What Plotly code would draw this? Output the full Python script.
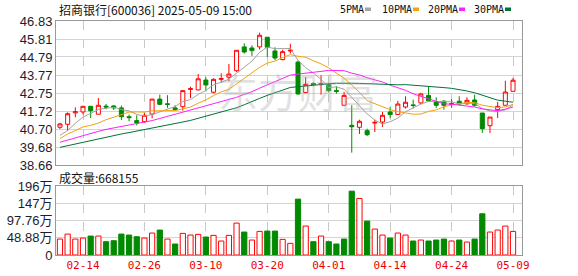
import plotly.graph_objects as go

# ---------------- data ----------------
dates = ["02-11","02-12","02-13","02-14","02-17","02-18","02-19","02-20","02-21","02-24",
         "02-25","02-26","02-27","02-28","03-03","03-04","03-05","03-06","03-07","03-10",
         "03-11","03-12","03-13","03-14","03-17","03-18","03-19","03-20","03-21","03-24",
         "03-25","03-26","03-27","03-28","03-31","04-01","04-02","04-03","04-07","04-08",
         "04-09","04-10","04-11","04-14","04-15","04-16","04-17","04-18","04-21","04-22",
         "04-23","04-24","04-25","04-28","04-29","04-30","05-06","05-07","05-08","05-09"]

open_ = [40.80,40.97,41.62,41.67,41.99,41.54,42.00,42.01,41.90,41.40,
         41.18,41.12,41.55,42.40,42.13,41.90,41.97,42.95,42.92,43.48,
         42.79,43.52,43.64,44.01,45.36,45.30,45.36,45.91,45.13,44.64,
         45.13,44.50,42.77,43.28,43.22,43.22,42.88,42.05,40.91,40.80,
         40.61,41.04,41.10,41.67,41.52,41.95,42.07,42.18,42.61,42.24,
         42.28,42.10,42.28,42.14,42.35,41.61,40.89,41.80,42.05,42.84]
high = [41.05,41.65,41.93,42.00,42.00,42.46,42.12,42.05,42.03,41.52,
        41.48,41.61,42.40,42.65,42.62,42.05,42.90,43.10,43.82,43.64,
        43.58,43.86,44.39,45.17,45.56,45.45,46.17,45.91,45.34,45.20,
        45.54,44.58,43.64,43.35,43.75,43.30,43.13,42.80,42.05,41.23,
        40.72,41.23,41.67,41.97,42.30,42.56,42.37,42.75,43.13,42.50,
        42.35,42.40,42.56,42.50,42.65,41.61,41.38,42.24,43.44,43.60]
low = [40.70,40.60,41.37,41.52,41.33,41.54,41.82,41.78,41.21,41.14,
       40.91,41.05,41.30,42.07,41.90,41.75,41.75,42.45,42.90,42.84,
       42.72,43.31,43.41,43.94,44.98,44.85,45.21,44.79,44.62,44.60,
       44.98,42.65,42.77,43.13,42.65,42.78,42.71,42.05,39.36,40.42,
       40.30,40.53,40.82,41.33,41.52,41.86,41.86,42.10,42.28,41.90,
       41.80,41.90,42.05,42.05,41.98,40.48,40.48,41.33,42.05,42.84]
close = [40.99,41.57,41.68,41.99,41.74,42.05,41.95,41.90,41.40,41.35,
         41.05,41.48,42.40,42.10,42.10,41.80,42.88,42.99,43.55,43.20,
         43.52,43.56,43.82,45.17,45.07,45.15,46.02,45.34,44.73,45.09,
         45.17,42.69,43.24,43.22,43.27,42.88,42.84,42.61,40.83,41.14,
         40.38,41.08,41.48,41.52,42.12,42.22,42.04,42.69,42.30,42.05,
         42.05,42.14,42.12,42.33,42.05,40.72,41.38,41.99,42.80,43.47]

ma5 = [40.34,40.62,41.02,41.38,41.59,41.81,41.88,41.93,41.81,41.73,
       41.53,41.44,41.52,41.66,41.80,41.98,42.26,42.37,42.66,42.89,
       43.22,43.35,43.53,43.86,44.23,44.55,45.05,45.35,45.26,45.27,
       45.27,44.60,44.18,43.88,43.52,43.06,43.09,42.96,42.49,42.06,
       41.56,41.21,40.98,41.12,41.32,41.68,41.88,42.12,42.27,42.26,
       42.23,42.25,42.13,42.14,42.14,41.87,41.72,41.69,41.79,42.07]
ma10 = [40.16,40.42,40.61,40.82,40.91,41.04,41.23,41.37,41.52,41.66,
        41.67,41.66,41.73,41.74,41.77,41.75,41.84,41.95,42.17,42.35,
        42.60,42.81,42.95,43.26,43.56,43.89,44.20,44.44,44.56,44.76,
        44.92,44.83,44.77,44.58,44.40,44.17,43.85,43.58,43.19,42.79,
        42.31,42.15,41.97,41.80,41.69,41.62,41.54,41.55,41.70,41.79,
        41.96,42.07,42.13,42.21,42.20,42.05,41.98,41.91,41.96,42.10]
ma20 = [39.95,40.08,40.20,40.33,40.45,40.57,40.68,40.76,40.83,40.90,
        40.98,41.06,41.18,41.30,41.42,41.52,41.64,41.77,41.90,42.01,
        42.13,42.23,42.34,42.50,42.67,42.82,43.02,43.20,43.36,43.55,
        43.76,43.82,43.86,43.91,43.97,44.03,44.02,44.01,43.87,43.77,
        43.61,43.49,43.37,43.19,43.04,42.90,42.70,42.56,42.44,42.29,
        42.13,42.11,42.05,42.01,41.95,41.84,41.77,41.74,41.83,41.95]
ma30 = [39.66,39.76,39.86,39.96,40.06,40.16,40.25,40.33,40.42,40.50,
        40.58,40.66,40.75,40.85,40.94,41.02,41.10,41.19,41.31,41.40,
        41.51,41.63,41.75,41.91,42.08,42.24,42.44,42.61,42.76,42.92,
        43.06,43.10,43.15,43.19,43.24,43.27,43.30,43.32,43.30,43.29,
        43.27,43.26,43.23,43.21,43.21,43.22,43.19,43.18,43.14,43.10,
        43.05,43.01,42.95,42.86,42.76,42.61,42.45,42.34,42.28,42.22]

# volume in 万 (10k lots)
volume = [45.2,59.3,45.2,48.0,53.7,53.7,37.7,40.5,59.3,56.5,
          51.8,48.0,62.2,70.7,45.2,31.1,61.2,56.5,58.4,50.9,
          55.6,39.6,55.6,90.4,65.0,42.4,66.9,67.8,67.8,44.3,
          33.0,158.3,82.0,37.7,53.7,37.7,31.1,45.2,180.9,160.2,
          96.1,73.5,56.5,48.0,62.2,56.5,39.6,42.4,39.6,42.4,
          45.2,39.6,42.4,36.7,45.2,116.8,65.0,70.7,82.0,66.82]
vol_up = [1,1,1,1,0,1,0,0,0,0,
          0,1,1,0,1,0,1,1,1,0,
          1,1,1,1,0,1,1,0,0,1,
          1,0,1,0,1,0,0,0,0,1,
          0,1,1,0,1,1,0,1,0,0,
          0,1,0,1,0,0,1,1,1,1]

x_tick_labels = ["02-14","02-26","03-10","03-20","04-01","04-14","04-24","05-09"]
price_tick_vals = [38.66,39.68,40.70,41.72,42.745,43.766,44.788,45.809,46.83]
price_tick_text = ["38.66","39.68","40.70","41.72","42.75","43.77","44.79","45.81","46.83"]
vol_tick_vals = [0,48.88,97.76,146.64,195.52]
vol_tick_text = ["0","48.88万","97.76万","147万","196万"]

title_text = "招商银行[600036] 2025-05-09 15:00"
vol_title = "成交量:668155"
ma_names = ["5PMA","10PMA","20PMA","30PMA"]
ma_colors = ["#a3a3a3","#f2a20c","#ff1fff","#00723a"]
watermark = "东方财富"

RED = "#ff0000"
GREEN = "#008a00"

# ---------------- figure ----------------
W, H = 578, 276
def px(x): return x / W
def py(y): return 1 - y / H

fig = go.Figure()

for name, vals, col in zip(ma_names, [ma5, ma10, ma20, ma30], ma_colors):
    fig.add_trace(go.Scatter(x=dates, y=vals, mode="lines", name=name,
                             line=dict(color=col, width=1), hoverinfo="skip",
                             xaxis="x", yaxis="y"))

fig.add_trace(go.Candlestick(
    x=dates, open=open_, high=high, low=low, close=close,
    increasing=dict(line=dict(color=RED, width=1), fillcolor="white"),
    decreasing=dict(line=dict(color=GREEN, width=1), fillcolor=GREEN),
    whiskerwidth=0, xaxis="x", yaxis="y", name="K"))

fig.add_trace(go.Bar(
    x=dates, y=volume, width=0.68,
    marker=dict(color=["white" if u else GREEN for u in vol_up],
                line=dict(color=[RED if u else GREEN for u in vol_up], width=1)),
    xaxis="x2", yaxis="y2", name="VOL", hoverinfo="skip"))

xr = [-0.516, 60.17]
common_x = dict(type="category", range=xr, domain=[px(56), px(522)],
                tickvals=x_tick_labels, ticktext=x_tick_labels,
                showgrid=True, gridcolor="#c8c8c8", griddash="dash", gridwidth=1,
                showline=True, mirror=True, linecolor="#999999", linewidth=1,
                ticks="", zeroline=False, fixedrange=True, automargin=False)

fig.update_layout(
    width=W, height=H, margin=dict(l=0, r=0, t=0, b=0, pad=0, autoexpand=False),
    paper_bgcolor="white", plot_bgcolor="white", showlegend=False,
    boxgap=0.25,
    xaxis=dict(**common_x, anchor="y", showticklabels=False,
               rangeslider=dict(visible=False)),
    xaxis2=dict(**common_x, anchor="y2", matches="x", showticklabels=True,
                tickfont=dict(family="DejaVu Sans Mono", size=11, color="#ee0000")),
    yaxis=dict(domain=[py(165), py(21)], range=[38.66, 46.83],
               tickvals=price_tick_vals, ticktext=price_tick_text,
               showgrid=True, gridcolor="#d4d4d4", gridwidth=1,
               showline=True, mirror=True, linecolor="#999999", linewidth=1,
               ticks="", zeroline=False, fixedrange=True, automargin=False,
               tickfont=dict(family="Liberation Sans", size=13, color="#1c1c30")),
    yaxis2=dict(domain=[py(255), py(186)], range=[0, 195.52],
                tickvals=vol_tick_vals, ticktext=vol_tick_text,
                showgrid=True, gridcolor="#d4d4d4", gridwidth=1,
                showline=True, mirror=True, linecolor="#999999", linewidth=1,
                ticks="", zeroline=False, fixedrange=True, automargin=False,
                tickfont=dict(family="Liberation Sans, Noto Sans CJK SC", size=13, color="#1c1c30")),
)

annos = [
    dict(text=title_text, x=px(57), y=py(9), xref="paper", yref="paper",
         xanchor="left", yanchor="middle", showarrow=False,
         font=dict(family="Noto Sans CJK SC", size=12, color="#111111")),
    dict(text=vol_title, x=px(57), y=py(177), xref="paper", yref="paper",
         xanchor="left", yanchor="middle", showarrow=False,
         font=dict(family="Noto Sans CJK SC", size=12, color="#111111")),
    dict(text=watermark, x=px(298), y=py(91), xref="paper", yref="paper",
         xanchor="center", yanchor="middle", showarrow=False,
         font=dict(family="Noto Sans CJK SC", size=40, color="rgba(170,170,170,0.35)")),
]
legend_x = [338, 380, 426, 472]
legend_sq = [365, 413, 459, 505]
shapes = []
for name, col, lx, sx in zip(ma_names, ma_colors, legend_x, legend_sq):
    annos.append(dict(text=name, x=px(lx), y=py(9), xref="paper", yref="paper",
                      xanchor="left", yanchor="middle", showarrow=False,
                      font=dict(family="DejaVu Sans Mono", size=10, color="#111111")))
    shapes.append(dict(type="rect", xref="paper", yref="paper",
                       x0=px(sx), x1=px(sx + 6), y0=py(11), y1=py(7.5),
                       fillcolor=col, line=dict(width=0)))
fig.update_layout(annotations=annos, shapes=shapes)

fig.write_html("out.html")
